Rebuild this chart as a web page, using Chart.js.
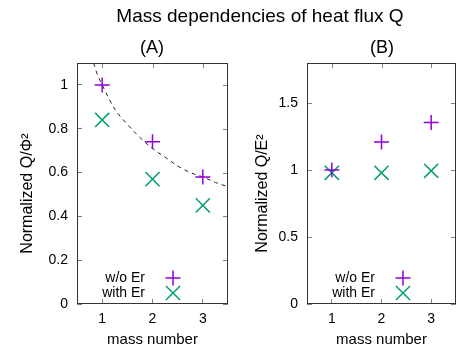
<!DOCTYPE html>
<html>
<head>
<meta charset="utf-8">
<script src="https://cdn.jsdelivr.net/npm/chart.js@4/dist/chart.umd.min.js"></script>
<style>
  body { margin: 0; background: #fff; font-family: "Liberation Sans", Arial, sans-serif; color: #000; }
  #wrap { position: relative; width: 459px; height: 347px; overflow: hidden; }
  canvas { position: absolute; top: 0; }
  .lbl { position: absolute; white-space: nowrap; transform: translate(-50%, -50%); z-index: 2; }
</style>
</head>
<body>
<div id="wrap">
  <canvas id="chartA" width="230" height="347" style="left:0"></canvas>
  <canvas id="chartB" width="229" height="347" style="left:230px"></canvas>
  <div class="lbl" style="left:260px; top:16px; font-size:19px">Mass dependencies of heat flux Q</div>
  <div class="lbl" style="left:152px; top:47px; font-size:18px">(A)</div>
  <div class="lbl" style="left:382px; top:47px; font-size:18px">(B)</div>
</div>
<script>
// values
var massNumbers = [1, 2, 3];
var seriesLabels = ['w/o Er', 'with Er'];
var phiNoEr = [1.0, 0.74, 0.58];
var phiWithEr = [0.84, 0.57, 0.45];
var eNoEr = [1.0, 1.21, 1.355];
var eWithEr = [0.98, 0.98, 0.995];
// dashed guide curve in (A)
var fitX = [0.83, 0.9, 1.0, 1.25, 1.5, 1.75, 2.0, 2.25, 2.5, 2.75, 3.0, 3.25, 3.5];
var fitY = [1.10, 1.05, 1.00, 0.89, 0.82, 0.76, 0.71, 0.67, 0.63, 0.60, 0.58, 0.555, 0.535];
var xTicks = [1, 2, 3];
var yTicksA = [0, 0.2, 0.4, 0.6, 0.8, 1];
var yTicksB = [0, 0.5, 1, 1.5];

var PURPLE = '#9400d3';
var GREEN = '#009e73';
var FONT = '"Liberation Sans", Arial, sans-serif';

function pairs(xs, ys) {
  return xs.map(function(x, i) { return { x: x, y: ys[i] }; });
}

// frame, mirrored ticks, rotated y title and in-plot key
var extras = {
  id: 'extras',
  afterDraw: function(chart, args, opts) {
    var ctx = chart.ctx, a = chart.chartArea;
    var xs = chart.scales.x, ys = chart.scales.y;
    ctx.save();
    ctx.strokeStyle = '#808080';
    ctx.lineWidth = 1;
    ctx.beginPath();
    xs.ticks.forEach(function(t) {
      var px = Math.round(xs.getPixelForValue(t.value)) + 0.5;
      ctx.moveTo(px, a.top); ctx.lineTo(px, a.top + 5);
    });
    ys.ticks.forEach(function(t) {
      var py = Math.round(ys.getPixelForValue(t.value)) + 0.5;
      ctx.moveTo(a.right, py); ctx.lineTo(a.right - 5, py);
    });
    ctx.stroke();

    ctx.strokeStyle = '#333';
    ctx.strokeRect(Math.round(a.left) + 0.5, Math.round(a.top) + 0.5,
      Math.round(a.right - a.left) - 1, Math.round(a.bottom - a.top) - 1);

    // y title
    ctx.fillStyle = '#000';
    ctx.font = '16px ' + FONT;
    ctx.textAlign = 'center';
    ctx.textBaseline = 'middle';
    ctx.translate(a.left - opts.titleGap, (a.top + a.bottom) / 2 + 10);
    ctx.rotate(-Math.PI / 2);
    ctx.fillText(opts.yTitle, 0, 0);
    ctx.restore();

    // key
    ctx.save();
    ctx.font = '14px ' + FONT;
    ctx.textAlign = 'right';
    ctx.textBaseline = 'middle';
    var row = 0;
    chart.data.datasets.forEach(function(ds) {
      if (seriesLabels.indexOf(ds.label) < 0) return;
      var y = a.bottom - 26 + row * 15;
      ctx.fillStyle = '#000';
      ctx.fillText(ds.label, a.left + 68, y);
      ctx.strokeStyle = ds.borderColor;
      ctx.lineWidth = ds.borderWidth;
      Chart.helpers.drawPoint(ctx, { pointStyle: ds.pointStyle, radius: ds.pointRadius, rotation: 0, borderWidth: ds.borderWidth }, a.left + 96, y);
      row++;
    });
    ctx.restore();
  }
};

function makeChart(id, datasets, yMax, yTicks, yTitle, titleGap, rightPad) {
  var ctx = document.getElementById(id);
  return new Chart(ctx, {
    type: 'scatter',
    data: { datasets: datasets },
    options: {
      responsive: false,
      animation: false,
      events: [],
      layout: { autoPadding: false, padding: { top: 63, right: rightPad, bottom: 0, left: 0 } },
      plugins: {
        legend: { display: false },
        title: { display: false },
        tooltip: { enabled: false },
        extras: { yTitle: yTitle, titleGap: titleGap }
      },
      scales: {
        x: {
          type: 'linear',
          min: 0.5,
          max: 3.5,
          afterBuildTicks: function(s) { s.ticks = xTicks.map(function(v) { return { value: v }; }); },
          afterFit: function(s) {
            s.height = 43;
            s.paddingLeft = 0; s.paddingRight = 0; s.paddingTop = 0; s.paddingBottom = 0;
          },
          border: { display: false },
          grid: { drawOnChartArea: false, drawTicks: true, tickLength: -5, color: '#808080' },
          ticks: { padding: 12, color: '#000', font: { size: 14, family: FONT },
                   callback: function(v) { return String(v); } },
          title: { display: true, text: 'mass number', color: '#000', padding: 0,
                   font: { size: 15, family: FONT, lineHeight: 1 } }
        },
        y: {
          type: 'linear',
          min: 0,
          max: yMax,
          afterBuildTicks: function(s) { s.ticks = yTicks.map(function(v) { return { value: v }; }); },
          afterFit: function(s) {
            s.width = 77;
            s.paddingLeft = 0; s.paddingRight = 0; s.paddingTop = 0; s.paddingBottom = 0;
          },
          border: { display: false },
          grid: { drawOnChartArea: false, drawTicks: true, tickLength: -5, color: '#808080' },
          ticks: { padding: 14, color: '#000', font: { size: 14, family: FONT },
                   callback: function(v) { return String(v); } }
        }
      }
    },
    plugins: [extras]
  });
}

function plusSet(values) {
  return { label: seriesLabels[0], data: pairs(massNumbers, values), pointStyle: 'cross',
           pointRadius: 7.5, borderColor: PURPLE, backgroundColor: PURPLE, borderWidth: 1.5, showLine: false };
}
function crossSet(values) {
  return { label: seriesLabels[1], data: pairs(massNumbers, values), pointStyle: 'crossRot',
           pointRadius: 10, borderColor: GREEN, backgroundColor: GREEN, borderWidth: 1.5, showLine: false };
}

window.onload = function() {
  makeChart('chartA', [
    plusSet(phiNoEr),
    crossSet(phiWithEr),
    { label: 'fit', type: 'line', data: pairs(fitX, fitY), borderColor: '#222', borderWidth: 1,
      borderDash: [4, 4], pointRadius: 0, cubicInterpolationMode: 'monotone', fill: false }
  ], 1.1, yTicksA, 'Normalized Q/\u03A6\u00B2', 49, 2);

  makeChart('chartB', [
    plusSet(eNoEr),
    crossSet(eWithEr)
  ], 1.8, yTicksB, 'Normalized Q/E\u00B2', 44, 3);
};
</script>
</body>
</html>
